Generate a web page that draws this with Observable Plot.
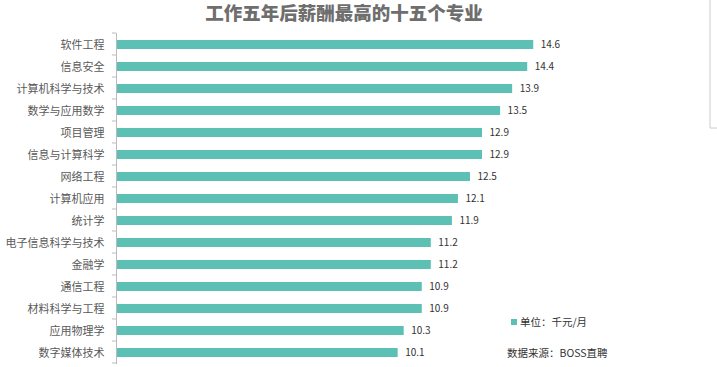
<!DOCTYPE html>
<html><head><meta charset="utf-8">
<script src="https://cdn.jsdelivr.net/npm/d3@7"></script>
<script src="https://cdn.jsdelivr.net/npm/@observablehq/plot@0.6"></script>
<style>
body{margin:0;background:#fff;}
#chart{position:relative;width:717px;height:367px;font-family:"Noto Sans CJK SC",sans-serif;}
</style></head>
<body><div id="chart"></div>
<script>
const title = "工作五年后薪酬最高的十五个专业";
const majors = ["软件工程","信息安全","计算机科学与技术","数学与应用数学","项目管理","信息与计算科学","网络工程","计算机应用","统计学","电子信息科学与技术","金融学","通信工程","材料科学与工程","应用物理学","数字媒体技术"];
const salaries = [14.6,14.4,13.9,13.5,12.9,12.9,12.5,12.1,11.9,11.2,11.2,10.9,10.9,10.3,10.1];
const unitLabel = "单位：千元/月";
const sourceLabel = "数据来源：BOSS直聘";

const data = majors.map((m,i)=>({major:m, value:salaries[i]}));
const xMin = 0.75, xMax = 20.7;
const color = "#5CC0B4";

const plot = Plot.plot({
  width: 717, height: 367,
  marginTop: 33, marginBottom: 3, marginLeft: 116, marginRight: 0,
  style: {fontFamily: '"Noto Sans CJK SC", sans-serif', background: "transparent"},
  x: {domain: [xMin, xMax], axis: null},
  y: {domain: majors, paddingInner: 0.59, paddingOuter: 0.295, align: 0.5, axis: null},
  marks: [
    Plot.barX(data, {y: "major", x1: xMin, x2: "value", fill: color}),
    Plot.text(data, {y: "major", x: "value", text: d => d.value.toFixed(1), textAnchor: "start", dx: 7, fontSize: 10, fill: "#333"}),
    Plot.axisY({anchor: "left", tickSize: 0, tickPadding: 12, fontSize: 11, color: "#595959", label: null}),
    Plot.ruleX([xMin], {stroke: "#bbb"})
  ]
});
document.getElementById("chart").appendChild(plot);

const svg = d3.select(plot);
const ys = plot.scale("y");
const xs = plot.scale("x");
const x0 = xs.apply(xMin);
const r0 = ys.range[0];
const bounds = d3.range(majors.length + 1).map(i => r0 + i * ys.step);
svg.append("g").attr("stroke", "#bbb").selectAll("line").data(bounds).join("line")
  .attr("x1", x0 - 4).attr("x2", x0).attr("y1", d => d).attr("y2", d => d);

svg.append("text").attr("x", 344).attr("y", 20).attr("text-anchor", "middle")
  .attr("font-size", 18.5).attr("font-weight", "900").attr("fill", "#6e6e6e").text(title);

const lg = svg.append("g").attr("font-size", 10.5).attr("fill", "#333").attr("text-anchor", "start");
lg.append("rect").attr("x", 511).attr("y", 319).attr("width", 6).attr("height", 6).attr("fill", color);
lg.append("text").attr("x", 520).attr("y", 326).text(unitLabel);
lg.append("text").attr("x", 507).attr("y", 357).text(sourceLabel);

svg.append("path").attr("d", "M710,0V128H717").attr("fill", "none").attr("stroke", "#ccc");
</script></body></html>
